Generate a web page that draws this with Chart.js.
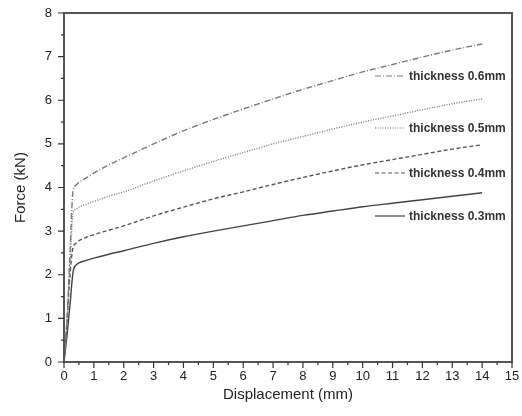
<!DOCTYPE html>
<html>
<head>
<meta charset="utf-8">
<script src="https://cdn.jsdelivr.net/npm/chart.js@4.4.1/dist/chart.umd.min.js"></script>
<style>
  html, body { margin: 0; padding: 0; background: #fff; }
  #wrap { width: 522px; height: 416px; }
</style>
</head>
<body>
<div id="wrap"><canvas id="forceChart" width="522" height="416"></canvas></div>
<script>
// displacement (mm), shared by all curves
const disp = [0, 0.1, 0.2, 0.3, 0.4, 0.5, 0.75, 1, 1.5, 2, 3, 4, 5, 6, 7, 8, 9, 10, 11, 12, 13, 14];

// force (kN) for each thickness
const force03 = [0, 0.6, 1.3, 2.05, 2.22, 2.27, 2.33, 2.38, 2.47, 2.55, 2.72, 2.87, 3.0, 3.12, 3.24, 3.36, 3.46, 3.56, 3.64, 3.72, 3.8, 3.88];
const force04 = [0, 0.9, 2.0, 2.62, 2.72, 2.78, 2.86, 2.92, 3.02, 3.12, 3.35, 3.55, 3.74, 3.9, 4.07, 4.23, 4.38, 4.52, 4.64, 4.76, 4.88, 4.98];
const force05 = [0, 0.9, 2.2, 3.4, 3.5, 3.55, 3.62, 3.68, 3.8, 3.9, 4.15, 4.38, 4.6, 4.8, 5.0, 5.17, 5.34, 5.5, 5.64, 5.78, 5.92, 6.03];
const force06 = [0, 1.0, 2.5, 3.9, 4.05, 4.12, 4.22, 4.33, 4.52, 4.68, 5.0, 5.3, 5.56, 5.8, 6.03, 6.25, 6.45, 6.65, 6.82, 6.99, 7.15, 7.29];

const seriesNames = ['thickness 0.6mm', 'thickness 0.5mm', 'thickness 0.4mm', 'thickness 0.3mm'];

function pts(ys) {
    return disp.map((x, i) => ({ x: x, y: ys[i] }));
}

// legend written inside the plot, right side
const sideLegend = {
    id: 'sideLegend',
    afterDatasetsDraw(chart) {
        const c = chart.ctx;
        const rows = [76, 128, 173, 216];
        c.save();
        c.font = 'bold 12px "Liberation Sans", Arial, sans-serif';
        c.fillStyle = '#333';
        c.textBaseline = 'middle';
        chart.data.datasets.forEach((ds, i) => {
            const y = rows[i];
            c.strokeStyle = ds.borderColor;
            c.lineWidth = 1.2;
            c.setLineDash(ds.borderDash || []);
            c.beginPath();
            c.moveTo(375, y);
            c.lineTo(405, y);
            c.stroke();
            c.setLineDash([]);
            c.fillText(ds.label, 409, y + 1);
        });
        c.restore();
    }
};

// frame + outward ticks (major and minor)
const frameTicks = {
    id: 'frameTicks',
    afterDraw(chart) {
        const c = chart.ctx;
        const a = chart.chartArea;
        const xs = chart.scales.x, ys = chart.scales.y;
        c.save();
        c.strokeStyle = '#555';
        c.lineWidth = 2;
        c.strokeRect(a.left, a.top, a.right - a.left, a.bottom - a.top);
        c.lineWidth = 1.2;
        c.strokeStyle = '#333';
        c.beginPath();
        for (let v = 0; v <= 15; v += 0.5) {
            const px = xs.getPixelForValue(v);
            const len = (v % 1 === 0) ? 6 : 3;
            c.moveTo(px, a.bottom);
            c.lineTo(px, a.bottom + len);
        }
        for (let v = 0; v <= 8; v += 0.5) {
            const py = ys.getPixelForValue(v);
            const len = (v % 1 === 0) ? 6 : 3;
            c.moveTo(a.left, py);
            c.lineTo(a.left - len, py);
        }
        c.stroke();
        c.restore();
    }
};

const font = { family: '"Liberation Sans", Arial, sans-serif', size: 13 };

new Chart(document.getElementById('forceChart').getContext('2d'), {
    type: 'line',
    data: {
        datasets: [
            { label: seriesNames[0], data: pts(force06), borderColor: '#7a7a7a', borderDash: [6, 2, 1, 2] },
            { label: seriesNames[1], data: pts(force05), borderColor: '#777777', borderDash: [1, 1.5] },
            { label: seriesNames[2], data: pts(force04), borderColor: '#555555', borderDash: [4, 2.5] },
            { label: seriesNames[3], data: pts(force03), borderColor: '#444444' }
        ].map(d => Object.assign(d, {
            borderWidth: 1.4,
            pointRadius: 0,
            fill: false,
            cubicInterpolationMode: 'monotone'
        }))
    },
    options: {
        responsive: false,
        animation: false,
        layout: { padding: { top: 13, right: 10, left: 0, bottom: 0 } },
        plugins: {
            legend: { display: false },
            tooltip: { enabled: false }
        },
        scales: {
            x: {
                type: 'linear',
                min: 0, max: 15,
                afterFit: s => { s.height = 54; s.paddingLeft = 0; s.paddingRight = 0; },
                grid: { display: false, drawTicks: false },
                border: { display: false },
                ticks: { stepSize: 1, color: '#222', font: font, padding: 7, maxRotation: 0 },
                title: { display: true, text: 'Displacement (mm)', color: '#222',
                         font: { family: font.family, size: 15 }, padding: { bottom: 12 } }
            },
            y: {
                type: 'linear',
                min: 0, max: 8,
                afterFit: s => { s.width = 64; s.paddingTop = 0; s.paddingBottom = 0; },
                grid: { display: false, drawTicks: false },
                border: { display: false },
                ticks: { stepSize: 1, color: '#222', font: font, padding: 12 },
                title: { display: true, text: 'Force (kN)', color: '#222',
                         font: { family: font.family, size: 15 }, padding: { top: 12 } }
            }
        }
    },
    plugins: [sideLegend, frameTicks]
});
</script>
</body>
</html>
